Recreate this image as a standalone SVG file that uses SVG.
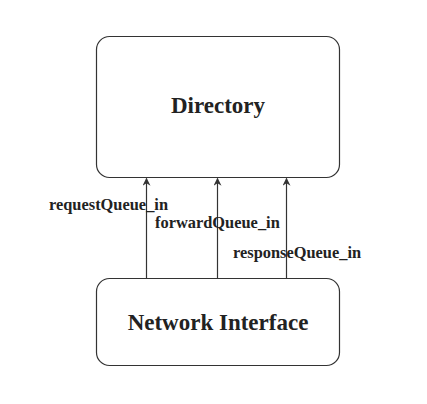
<svg xmlns="http://www.w3.org/2000/svg" width="427" height="404" viewBox="0 0 427 404">
<style>
.box{fill:#fff;stroke:#333;stroke-width:1.2}
.title{font-family:"Liberation Serif",serif;font-weight:bold;font-size:23px;fill:#222;text-anchor:middle}
.lbl{font-family:"Liberation Serif",serif;font-weight:bold;font-size:16.4px;fill:#222}
.edge{stroke:#333;stroke-width:1.2;fill:none}
</style>
<defs>
<marker id="ah" viewBox="0 0 10 10" refX="9" refY="5" markerWidth="8" markerHeight="8" orient="auto" markerUnits="userSpaceOnUse">
<path d="M0,0 L10,5 L0,10 L3,5 z" fill="#333"/>
</marker>
</defs>
<rect width="427" height="404" fill="#fff"/>
<g id="directory">
<rect class="box" x="96.5" y="36.5" width="243" height="141" rx="13"/>
<text class="title" x="218" y="113">Directory</text>
</g>
<g id="network-interface">
<rect class="box" x="96.5" y="278.5" width="243" height="87" rx="13"/>
<text class="title" x="218" y="330">Network Interface</text>
</g>
<g id="connectors">
<line class="edge" x1="146.5" y1="278" x2="146.5" y2="178.5" marker-end="url(#ah)"/>
<line class="edge" x1="217.5" y1="278" x2="217.5" y2="178.5" marker-end="url(#ah)"/>
<line class="edge" x1="286.5" y1="278" x2="286.5" y2="178.5" marker-end="url(#ah)"/>
<text class="lbl" x="49" y="210">requestQueue_in</text>
<text class="lbl" x="155" y="228">forwardQueue_in</text>
<text class="lbl" x="233" y="258">responseQueue_in</text>
</g>
</svg>
